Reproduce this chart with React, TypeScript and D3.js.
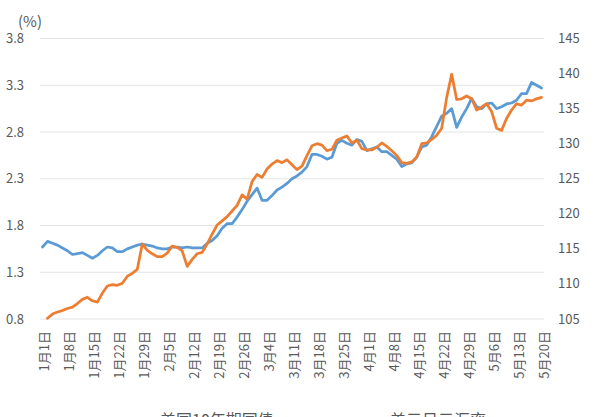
import React from "react";
import * as d3 from "d3";

const W = 600;
const H = 417;

// Left axis series (%): blue
const seriesBlue: number[] = [
  1.57, 1.63, 1.61, 1.59, 1.56, 1.53, 1.49, 1.5, 1.51, 1.48,
  1.45, 1.48, 1.53, 1.57, 1.56, 1.52, 1.52, 1.55, 1.57, 1.59,
  1.6, 1.59, 1.58, 1.56, 1.55, 1.55, 1.57, 1.57, 1.56, 1.57,
  1.56, 1.56, 1.56, 1.61, 1.64, 1.69, 1.77, 1.82, 1.82, 1.89,
  1.97, 2.06, 2.13, 2.2, 2.07, 2.07, 2.12, 2.18, 2.21, 2.25,
  2.3, 2.33, 2.37, 2.43, 2.56, 2.56, 2.54, 2.51, 2.53, 2.68,
  2.71, 2.68, 2.66, 2.72, 2.7, 2.6, 2.62, 2.64, 2.59, 2.59,
  2.55, 2.51, 2.43, 2.46, 2.47, 2.53, 2.64, 2.66, 2.75, 2.86,
  2.97, 3.0, 3.05, 2.85, 2.96, 3.05, 3.16, 3.07, 3.05, 3.1,
  3.11, 3.05, 3.07, 3.1, 3.11, 3.14, 3.21, 3.21, 3.33, 3.3, 3.27,
];

// Right axis series: orange
const seriesOrange: (number | null)[] = [
  null, 105.1, 105.7, 106.0, 106.2, 106.5, 106.7, 107.2, 107.8, 108.1,
  107.6, 107.4, 108.7, 109.7, 109.9, 109.8, 110.1, 111.1, 111.5, 112.1,
  115.7, 114.8, 114.3, 113.9, 113.9, 114.4, 115.4, 115.2, 114.7, 112.5,
  113.5, 114.3, 114.5, 115.7, 117.1, 118.4, 119.0, 119.6, 120.4, 121.2,
  122.7, 122.1, 124.6, 125.6, 125.2, 126.4, 127.1, 127.6, 127.3, 127.7,
  127.0, 126.3, 126.8, 128.3, 129.7, 130.0, 129.8, 129.0, 129.2, 130.5,
  130.8, 131.1, 130.1, 130.5, 129.3, 129.1, 129.1, 129.5, 130.1, 129.6,
  129.0, 128.3, 127.3, 127.2, 127.4, 128.1, 130.0, 130.1, 130.6, 131.2,
  132.2, 136.6, 139.9, 136.3, 136.4, 136.8, 136.4, 134.8, 135.2, 135.7,
  134.6, 132.2, 131.9, 133.6, 134.8, 135.7, 135.5, 136.2, 136.1, 136.4, 136.6,
];

const tickLabels: string[] = [
  "1月1日", "1月8日", "1月15日", "1月22日", "1月29日", "2月5日", "2月12日",
  "2月19日", "2月26日", "3月4日", "3月11日", "3月18日", "3月25日", "4月1日",
  "4月8日", "4月15日", "4月22日", "4月29日", "5月6日", "5月13日", "5月20日",
];
const tickEvery = 5;

const leftTicks: number[] = [0.8, 1.3, 1.8, 2.3, 2.8, 3.3, 3.8];
const rightTicks: number[] = [105, 110, 115, 120, 125, 130, 135, 140, 145];

const legendNames: string[] = ["美国10年期国债", "美元日元汇率"];
const colors = ["#5B9BD5", "#ED7D31"];

const FONT = "'Noto Sans CJK SC', 'Noto Sans', sans-serif";
const TEXT = "#595959";

export default function App() {
  const plot = { left: 40, right: 544, top: 38.5, bottom: 319 };
  const idx = d3.range(seriesBlue.length);
  const x = d3
    .scalePoint<number>()
    .domain(idx)
    .range([plot.left, plot.right])
    .padding(0.5);
  const yL = d3.scaleLinear().domain([0.8, 3.8]).range([plot.bottom, plot.top]);
  const yR = d3.scaleLinear().domain([105, 145]).range([plot.bottom, plot.top]);

  const lineBlue = d3
    .line<number>()
    .x((_, i) => x(i)!)
    .y((d) => yL(d));
  const lineOrange = d3
    .line<number | null>()
    .defined((d) => d != null)
    .x((_, i) => x(i)!)
    .y((d) => yR(d as number));

  return (
    <svg
      width={W}
      height={H}
      style={{ position: "absolute", left: 0, top: 0, background: "#fff" }}
      fontFamily={FONT}
    >
      <rect x={0} y={0} width={W} height={H} fill="#fff" />
      {leftTicks.map((t) => (
        <line
          key={"g" + t}
          x1={plot.left}
          x2={plot.right}
          y1={yL(t)}
          y2={yL(t)}
          stroke="#E4E4E4"
          strokeWidth={1}
        />
      ))}
      {leftTicks.map((t) => (
        <text
          key={"l" + t}
          x={24}
          y={yL(t)}
          dy="0.35em"
          textAnchor="end"
          fontSize={13}
          fill={TEXT}
        >
          {t.toFixed(1)}
        </text>
      ))}
      {rightTicks.map((t) => (
        <text
          key={"r" + t}
          x={558}
          y={yR(t)}
          dy="0.35em"
          textAnchor="start"
          fontSize={13}
          fill={TEXT}
        >
          {t}
        </text>
      ))}
      <text x={18} y={22} dy="0.35em" fontSize={15} fill={TEXT}>
        (%)
      </text>
      {tickLabels.map((lab, k) => {
        const xi = x(k * tickEvery)! + 1.5;
        return (
          <text
            key={lab}
            transform={`translate(${xi},331) rotate(-90)`}
            textAnchor="end"
            dominantBaseline="central"
            fontSize={13}
            fill={TEXT}
          >
            {lab}
          </text>
        );
      })}
      <path
        d={lineBlue(seriesBlue) || ""}
        fill="none"
        stroke={colors[0]}
        strokeWidth={2.75}
        strokeLinejoin="round"
        strokeLinecap="round"
      />
      <path
        d={lineOrange(seriesOrange) || ""}
        fill="none"
        stroke={colors[1]}
        strokeWidth={2.75}
        strokeLinejoin="round"
        strokeLinecap="round"
      />
      {legendNames.map((name, i) => {
        const tx = i === 0 ? 160 : 390;
        return (
          <g key={name}>
            <line
              x1={tx - 34}
              x2={tx - 6}
              y1={421}
              y2={421}
              stroke={colors[i]}
              strokeWidth={2.75}
            />
            <text x={tx} y={426} fontSize={16} fill={TEXT}>
              {name}
            </text>
          </g>
        );
      })}
    </svg>
  );
}
